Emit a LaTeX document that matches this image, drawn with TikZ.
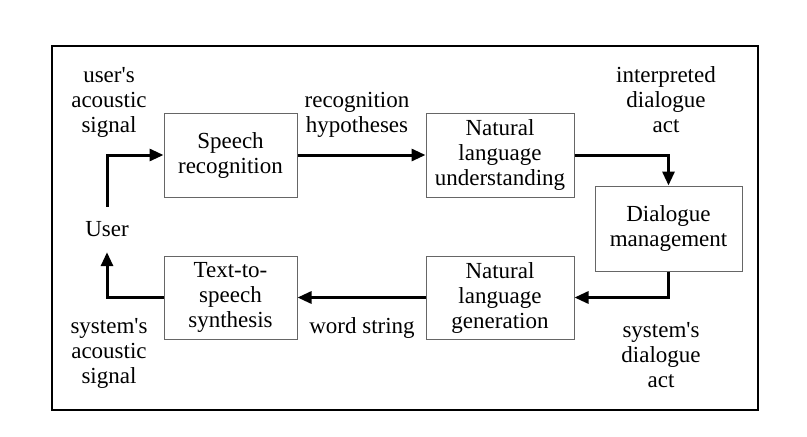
\documentclass[tikz,border=0pt]{standalone}
\usepackage{fontspec}
\setmainfont{Liberation Serif}[Ligatures=TeXOff]
\usetikzlibrary{arrows.meta}
\begin{document}
\begin{tikzpicture}[x=1pt,y=-1pt,
  every node/.style={font=\fontsize{23}{25}\selectfont, align=center, inner sep=0pt},
  blk/.style={draw=black!60, line width=1pt, fill=white},
  flow/.style={line width=3pt, -{Triangle[length=14pt,width=12pt]}}]
\useasboundingbox (0,0) rectangle (807,437);
\fill[white] (0,0) rectangle (807,437);
\draw[line width=1.8pt] (52,46) rectangle (758,410);
% blocks
\node[blk, minimum width=133pt, minimum height=84pt] (sr) at (230.5,155) {Speech\\recognition};
\node[blk, minimum width=148pt, minimum height=84pt] (nlu) at (500,155) {Natural\\language\\understanding};
\node[blk, minimum width=147pt, minimum height=85pt] (dm) at (668.5,228.5) {Dialogue\\management};
\node[blk, minimum width=148pt, minimum height=83pt] (nlg) at (500,297.5) {Natural\\language\\generation};
\node[blk, minimum width=133pt, minimum height=83pt] (tts) at (230.5,297.5) {Text-to-\\speech\\synthesis};
\node[minimum height=45pt] (user) at (107,229.5) {User};
% labels
\node (l1) at (109,102) {user's\\acoustic\\signal};
\node (l2) at (357,115) {recognition\\hypotheses};
\node (l3) at (666,100) {interpreted\\dialogue\\act};
\node (l4) at (661,355) {system's\\dialogue\\act};
\node (l5) at (109,353) {system's\\acoustic\\signal};
\node (l6) at (362,328) {word string};
% connectors
\draw[flow] (user.north) |- (sr.west);
\draw[flow] (sr.east) -- (nlu.west);
\draw[flow] (nlu.east) -| (dm.north);
\draw[flow] (dm.south) |- (nlg.east);
\draw[flow] (nlg.west) -- (tts.east);
\draw[flow] (tts.west) -| (user.south);
\end{tikzpicture}
\end{document}
